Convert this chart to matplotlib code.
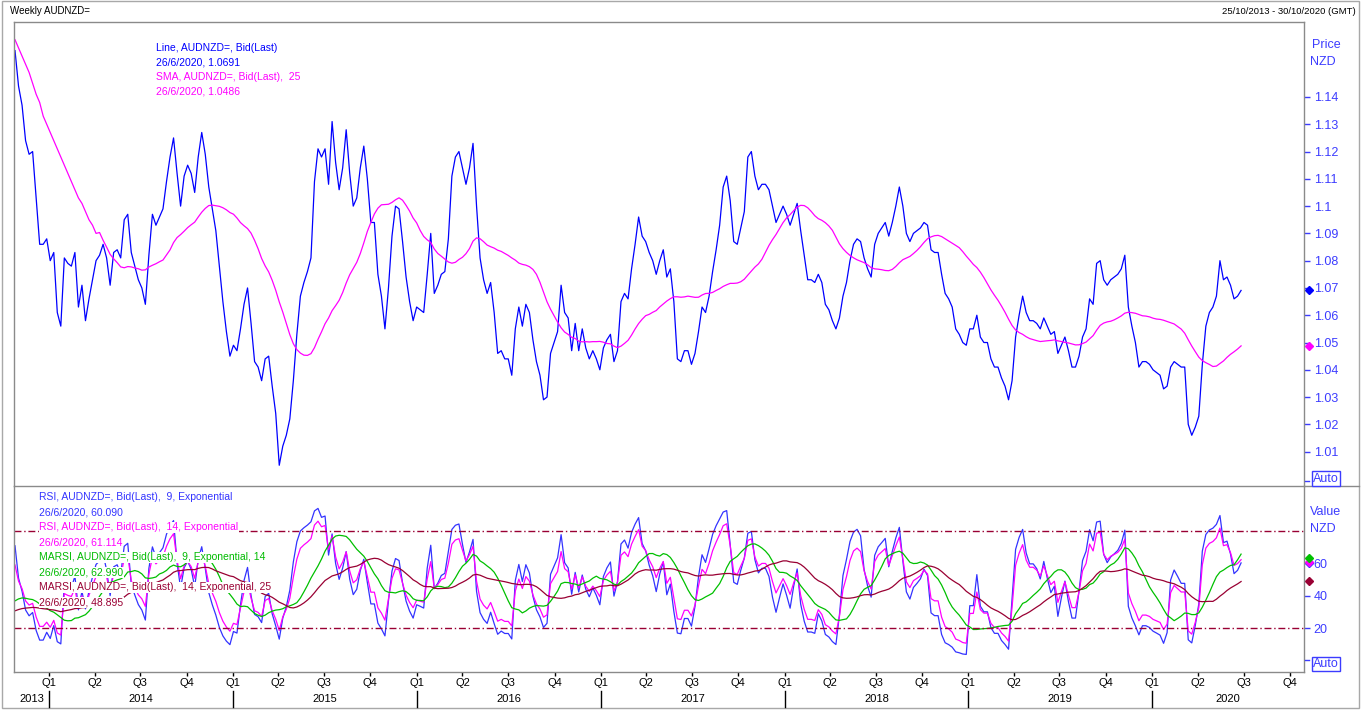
import numpy as np
import pandas as pd
import matplotlib
matplotlib.use("Agg")
import matplotlib.pyplot as plt
import matplotlib.dates as mdates
from matplotlib import transforms
from matplotlib.lines import Line2D
from matplotlib.patches import Rectangle

plt.rcParams['font.family'] = ['Liberation Sans', 'DejaVu Sans']

# ---------------- data ----------------
start_date = '2013-10-25'   # weekly closes, Fridays
price = [
    1.157, 1.144, 1.137, 1.124, 1.119, 1.120, 1.103, 1.086, 1.086, 1.088,
    1.080, 1.083, 1.061, 1.056, 1.081, 1.079, 1.078, 1.083, 1.063, 1.071,
    1.058, 1.066, 1.073, 1.080, 1.082, 1.086, 1.081, 1.071, 1.083, 1.084,
    1.081, 1.095, 1.097, 1.083, 1.078, 1.073, 1.070, 1.064, 1.082, 1.097,
    1.093, 1.096, 1.099, 1.109, 1.118, 1.125, 1.112, 1.100, 1.111, 1.115,
    1.112, 1.105, 1.118, 1.127, 1.119, 1.107, 1.099, 1.091, 1.078, 1.065,
    1.054, 1.045, 1.049, 1.047, 1.055, 1.064, 1.070, 1.057, 1.043, 1.041,
    1.036, 1.044, 1.045, 1.034, 1.024, 1.005, 1.012, 1.016, 1.022, 1.036,
    1.053, 1.067, 1.072, 1.076, 1.081, 1.109, 1.121, 1.118, 1.121, 1.108,
    1.131, 1.116, 1.106, 1.114, 1.128, 1.112, 1.100, 1.103, 1.114, 1.122,
    1.110, 1.094, 1.094, 1.075, 1.067, 1.055, 1.070, 1.089, 1.100, 1.099,
    1.087, 1.074, 1.065, 1.058, 1.063, 1.062, 1.061, 1.075, 1.090, 1.068,
    1.071, 1.075, 1.076, 1.088, 1.111, 1.118, 1.120, 1.114, 1.108, 1.114,
    1.123, 1.100, 1.081, 1.073, 1.068, 1.072, 1.061, 1.046, 1.047, 1.044,
    1.044, 1.038, 1.055, 1.063, 1.056, 1.064, 1.061, 1.051, 1.043, 1.038,
    1.029, 1.030, 1.046, 1.050, 1.054, 1.071, 1.061, 1.059, 1.047, 1.057,
    1.047, 1.055, 1.048, 1.044, 1.047, 1.044, 1.040, 1.048, 1.051, 1.053,
    1.043, 1.047, 1.065, 1.068, 1.066, 1.077, 1.086, 1.096, 1.089, 1.087,
    1.083, 1.080, 1.075, 1.080, 1.084, 1.074, 1.077, 1.065, 1.044, 1.043,
    1.047, 1.047, 1.042, 1.046, 1.054, 1.063, 1.061, 1.067, 1.076, 1.084,
    1.093, 1.107, 1.111, 1.102, 1.087, 1.086, 1.092, 1.098, 1.118, 1.120,
    1.111, 1.106, 1.108, 1.108, 1.106, 1.100, 1.094, 1.097, 1.100, 1.097,
    1.093, 1.097, 1.101, 1.091, 1.082, 1.073, 1.073, 1.072, 1.075, 1.072,
    1.064, 1.062, 1.058, 1.055, 1.059, 1.067, 1.072, 1.080, 1.086, 1.088,
    1.087, 1.081, 1.077, 1.074, 1.086, 1.090, 1.092, 1.094, 1.089, 1.094,
    1.100, 1.107, 1.100, 1.090, 1.087, 1.090, 1.091, 1.092, 1.094, 1.093,
    1.084, 1.083, 1.083, 1.075, 1.068, 1.066, 1.063, 1.055, 1.053, 1.050,
    1.049, 1.055, 1.055, 1.060, 1.052, 1.050, 1.050, 1.044, 1.041, 1.041,
    1.037, 1.034, 1.029, 1.036, 1.052, 1.060, 1.067, 1.061, 1.058, 1.058,
    1.057, 1.055, 1.059, 1.056, 1.053, 1.054, 1.046, 1.049, 1.052, 1.047,
    1.041, 1.041, 1.045, 1.052, 1.055, 1.066, 1.064, 1.079, 1.080, 1.073,
    1.071, 1.073, 1.074, 1.075, 1.077, 1.082, 1.063, 1.056, 1.050, 1.041,
    1.043, 1.043, 1.042, 1.040, 1.039, 1.038, 1.033, 1.034, 1.041, 1.043,
    1.042, 1.041, 1.041, 1.020, 1.016, 1.019, 1.023, 1.042, 1.056, 1.061,
    1.063, 1.067, 1.080, 1.073, 1.074, 1.071, 1.066, 1.067, 1.0691,
]
# SMA(25) values for the first 24 weeks (need earlier history)
sma_head = [1.161, 1.158, 1.155, 1.152, 1.149, 1.145, 1.141, 1.138, 1.133, 1.130,
            1.127, 1.124, 1.121, 1.118, 1.115, 1.112, 1.109, 1.106, 1.103, 1.101,
            1.098, 1.095, 1.093, 1.090]
sma_period = 25
rsi_fast, rsi_slow = 9, 14
marsi_fast_period, marsi_slow_period = 14, 25
# indicator values at the left edge of the chart
rsi9_start, rsi14_start = 70.8, 59.0
marsi9_start, marsi14_start = 34.3, 29.6

price_ticks = [1.01, 1.02, 1.03, 1.04, 1.05, 1.06, 1.07, 1.08, 1.09, 1.10,
               1.11, 1.12, 1.13, 1.14]
value_ticks = [20, 40, 60]
band_levels = [20, 80]
years = [2013, 2014, 2015, 2016, 2017, 2018, 2019, 2020]
quarter_names = ['Q1', 'Q2', 'Q3', 'Q4']

legend_top = [("Line, AUDNZD=, Bid(Last)", '#0000ff'),
              ("26/6/2020, 1.0691", '#0000ff'),
              ("SMA, AUDNZD=, Bid(Last),  25", '#ff00ff'),
              ("26/6/2020, 1.0486", '#ff00ff')]
legend_bottom = [("RSI, AUDNZD=, Bid(Last),  9, Exponential", '#3333ff'),
                 ("26/6/2020, 60.090", '#3333ff'),
                 ("RSI, AUDNZD=, Bid(Last),  14, Exponential", '#ff00ff'),
                 ("26/6/2020, 61.114", '#ff00ff'),
                 ("MARSI, AUDNZD=, Bid(Last),  9, Exponential, 14", '#00bb00'),
                 ("26/6/2020, 62.990", '#00bb00'),
                 ("MARSI, AUDNZD=, Bid(Last),  14, Exponential, 25", '#990033'),
                 ("26/6/2020, 48.895", '#990033')]

# ---------------- derived series ----------------
dates = pd.date_range(start_date, periods=len(price), freq='7D')
p = np.array(price, dtype=float)
sma = pd.Series(p).rolling(sma_period).mean().to_numpy()
sma[:len(sma_head)] = sma_head


def rsi_exp(vals, n, seed):
    a = 2.0 / (n + 1)
    d = np.diff(vals)
    mag = np.mean(np.abs(d[:n]))
    g = seed / 100 * mag
    l = (1 - seed / 100) * mag
    out = [seed]
    for x in d:
        g += a * (max(x, 0) - g)
        l += a * (max(-x, 0) - l)
        out.append(100 * g / (g + l))
    return np.array(out)


def sma_seeded(vals, n, seed):
    padded = np.concatenate([np.full(n - 1, seed), vals])
    return pd.Series(padded).rolling(n).mean().to_numpy()[n - 1:]


rsi9 = rsi_exp(p, rsi_fast, rsi9_start)
rsi14 = rsi_exp(p, rsi_slow, rsi14_start)
marsi9 = sma_seeded(rsi9, marsi_fast_period, marsi9_start)
marsi14 = sma_seeded(rsi14, marsi_slow_period, marsi14_start)

# ---------------- figure ----------------
W, H = 1362, 710
fig = plt.figure(figsize=(W / 100, H / 100), dpi=100)
fig.patch.set_facecolor('white')


def fx(px):
    return px / W


def fy(py):
    return 1 - py / H


L, R = 14, 1304
T1, B1 = 21.7, 486
B2 = 671.7
ax1 = fig.add_axes([fx(L), fy(B1), fx(R) - fx(L), fy(T1) - fy(B1)])
ax2 = fig.add_axes([fx(L), fy(B2), fx(R) - fx(L), fy(B1) - fy(B2)], sharex=ax1)

frame_c = '#8a8a8a'
axis_blue = '#3c3cff'
for ax in (ax1, ax2):
    for s in ax.spines.values():
        s.set_color(frame_c)
        s.set_linewidth(1.0)
ax1.spines['bottom'].set_visible(False)

lw = 0.9
ax1.plot(dates, p, color='#0000ff', lw=lw)
ax1.plot(dates, sma, color='#ff00ff', lw=lw)

xl = (pd.Timestamp('2013-10-23'), pd.Timestamp('2020-10-29'))
ax1.set_xlim(xl)
ax1.set_ylim(0.9974, 1.1676)
ax1.yaxis.tick_right()
ax1.set_yticks(price_ticks)
ax1.set_yticklabels([('%.2f' % v).rstrip('0') for v in price_ticks])
ax1.tick_params(axis='y', colors=axis_blue, labelsize=9, length=4, width=1,
                direction='out', pad=3)
ax1.tick_params(axis='x', bottom=False, labelbottom=False)

# lower panel
ax2.plot(dates, rsi9, color='#3333ff', lw=lw)
ax2.plot(dates, rsi14, color='#ff00ff', lw=lw)
ax2.plot(dates, marsi9, color='#00c000', lw=lw)
ax2.plot(dates, marsi14, color='#990033', lw=lw)
for lv in band_levels:
    ax2.axhline(lv, color='#990033', lw=1.0, ls=(0, (5, 2, 1, 2)))
ax2.set_ylim(-6.7, 107.6)
ax2.yaxis.tick_right()
ax2.set_yticks(value_ticks)
ax2.set_yticklabels([str(v) for v in value_ticks])
ax2.tick_params(axis='y', colors=axis_blue, labelsize=9, length=4, width=1,
                direction='out', pad=3)

# x axis: quarters
qdates = []
qlabels = []
for y in range(2014, 2021):
    for qi, m in enumerate([1, 4, 7, 10]):
        qdates.append(pd.Timestamp(year=y, month=m, day=1))
        qlabels.append(quarter_names[qi])
ax2.set_xticks(qdates)
ax2.set_xticklabels(qlabels)
ax2.tick_params(axis='x', colors='black', labelsize=8, length=3, width=1,
                direction='out', pad=1.5)
for t in ax2.xaxis.get_ticklines():
    t.set_color('#555555')

blend = transforms.blended_transform_factory(ax2.transData, fig.transFigure)
xnum_l = mdates.date2num(xl[0])
xnum_r = mdates.date2num(xl[1])
for y in years:
    y0 = max(mdates.date2num(pd.Timestamp(year=y, month=1, day=1)), xnum_l)
    y1 = min(mdates.date2num(pd.Timestamp(year=y + 1, month=1, day=1)), xnum_r)
    ax2.text((y0 + y1) / 2, fy(699), str(y), transform=blend, ha='center',
             va='center', fontsize=8, color='black')
    if y > 2013:
        sx = mdates.date2num(pd.Timestamp(year=y, month=1, day=1))
        fig.add_artist(Line2D([sx, sx], [fy(691), fy(707)], transform=blend,
                              color='black', lw=1))

# right-axis value markers
mk = transforms.blended_transform_factory(ax1.transAxes, ax1.transData)
xm = (1309.3 - L) / (R - L)
ax1.plot([xm], [p[-1]], 'D', color='#0000ff', ms=4.5, transform=mk, clip_on=False)
ax1.plot([xm], [sma[-1]], 'D', color='#ff00ff', ms=4.5, transform=mk, clip_on=False)
mk2 = transforms.blended_transform_factory(ax2.transAxes, ax2.transData)
ax2.plot([xm], [60.09], 'D', color='#3333ff', ms=4.5, transform=mk2, clip_on=False)
ax2.plot([xm], [61.114], 'D', color='#ff00ff', ms=4.5, transform=mk2, clip_on=False)
ax2.plot([xm], [62.99], 'D', color='#00c000', ms=4.5, transform=mk2, clip_on=False)
ax2.plot([xm], [48.895], 'D', color='#990033', ms=4.5, transform=mk2, clip_on=False)

# legends
for i, (txt, c) in enumerate(legend_top):
    fig.text(fx(155.7), fy(47.7 + 14.7 * i), txt, color=c, fontsize=7.5,
             ha='left', va='center')
for i, (txt, c) in enumerate(legend_bottom):
    fig.text(fx(39.3), fy(497.3 + 15 * i), txt, color=c, fontsize=7.5,
             ha='left', va='center', zorder=5,
             bbox=dict(facecolor='white', edgecolor='none', pad=0.3))

# axis captions
fig.text(fx(1312), fy(45), 'Price', color=axis_blue, fontsize=9, va='center')
fig.text(fx(1310), fy(62), 'NZD', color=axis_blue, fontsize=9, va='center')
fig.text(fx(1310), fy(512), 'Value', color=axis_blue, fontsize=9, va='center')
fig.text(fx(1310), fy(529), 'NZD', color=axis_blue, fontsize=9, va='center')
for ty, ly in [(481, 478.5), (659.5, 664)]:
    fig.add_artist(Line2D([fx(1305), fx(1309)], [fy(ty), fy(ty)], color=axis_blue, lw=1))
    fig.text(fx(1313), fy(ly), 'Auto', color=axis_blue, fontsize=9, va='center',
             bbox=dict(facecolor='white', edgecolor=axis_blue, pad=0.8, lw=1))

# header & frame
fig.text(fx(10), fy(11), 'Weekly AUDNZD=', fontsize=7, color='black', va='center')
fig.text(fx(1356), fy(11), '25/10/2013 - 30/10/2020 (GMT)', fontsize=6.8,
         color='black', va='center', ha='right')
fig.add_artist(Line2D([fx(R), fx(1359)], [fy(B1), fy(B1)], color=frame_c, lw=1))
fig.add_artist(Rectangle((fx(2), fy(708)), fx(1359) - fx(2), fy(1) - fy(708),
                         transform=fig.transFigure, fill=False,
                         edgecolor='#a8a8a8', lw=1))

fig.savefig('out.png', dpi=100)
